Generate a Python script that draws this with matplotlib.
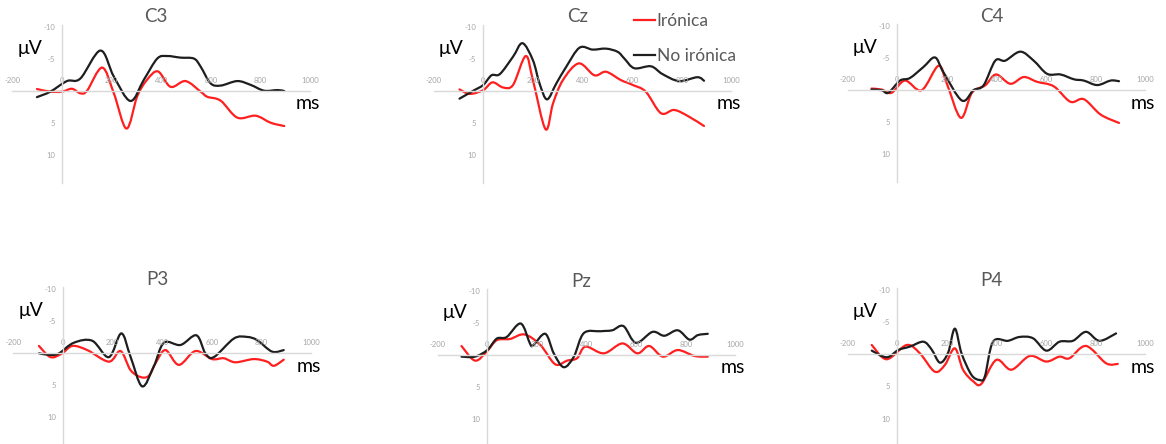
import numpy as np
import matplotlib
matplotlib.use("Agg")
import matplotlib.pyplot as plt
from matplotlib.path import Path
from matplotlib.patches import PathPatch
from matplotlib.lines import Line2D

plt.rcParams['font.family'] = ['Lato', 'DejaVu Sans']
plt.rcParams['axes.unicode_minus'] = False

# --- datos (ms, microvoltios) ---
c3_t_no = [-101, -47, 20, 74, 155, 209, 276, 330, 384, 424, 478, 532, 559, 599, 640, 707, 761, 815, 869, 896]
c3_v_no = [1.0, 0.15, -1.5, -1.9, -6.25, -2.2, 1.6, -1.7, -5.0, -5.4, -5.15, -5.0, -3.75, -1.15, -0.8, -1.5, -0.9, 0.0, -0.1, 0.05]
c3_t_ir = [-101, -47, 0, 40, 74, 101, 162, 209, 260, 303, 343, 387, 438, 498, 559, 586, 640, 707, 781, 842, 896]
c3_v_ir = [-0.26, 0.15, 0.15, -0.3, 0.4, 0.0, -3.6, 0.4, 5.9, 0.9, -1.7, -3.0, -0.6, -1.5, 0.15, 0.95, 1.56, 4.2, 3.9, 5.0, 5.5]

cz_t_no = [-96, -40, 0, 33, 67, 120, 158, 200, 227, 257, 294, 334, 388, 441, 495, 542, 569, 609, 676, 722, 789, 863, 890]
cz_v_no = [1.24, 0.0, -0.9, -2.4, -2.6, -5.3, -7.4, -4.75, -1.1, 1.35, -1.1, -3.7, -6.7, -6.4, -6.55, -6.05, -5.0, -3.5, -3.8, -2.6, -1.5, -2.1, -1.55]
cz_t_ir = [-96, -54, 0, 37, 80, 120, 171, 200, 251, 281, 321, 385, 448, 495, 555, 602, 655, 716, 769, 823, 890]
cz_v_ir = [-0.2, 0.5, -0.1, -1.3, -0.5, -0.9, -5.4, -1.65, 6.0, 2.0, -1.65, -4.25, -2.4, -2.95, -1.65, -0.9, 0.15, 3.5, 3.0, 3.9, 5.5]

c4_t_no = [-104, -63, -36, 11, 51, 105, 152, 186, 260, 307, 348, 395, 435, 496, 550, 604, 658, 712, 752, 806, 860, 894]
c4_v_no = [-0.1, 0.0, 0.4, -1.5, -1.9, -3.6, -5.1, -2.8, 1.6, 0.0, -0.77, -4.6, -4.6, -6.0, -4.6, -2.55, -2.45, -1.7, -1.5, -0.8, -1.5, -1.4]
c4_t_ir = [-104, -63, -23, 31, 98, 166, 200, 256, 301, 355, 398, 456, 510, 564, 631, 698, 752, 820, 894]
c4_v_ir = [-0.25, -0.1, 0.4, -1.5, 0.0, -3.8, -1.0, 4.3, 0.4, -0.77, -2.45, -1.0, -2.05, -1.3, -0.6, 1.8, 1.4, 3.8, 5.1]

p3_t_no = [-97, -50, -16, 44, 118, 185, 235, 272, 319, 366, 407, 474, 538, 574, 608, 689, 742, 783, 843, 890]
p3_v_no = [0.0, 0.26, 0.0, -1.65, -1.95, 0.6, -3.1, 0.5, 5.15, 2.05, -1.65, -1.3, -2.8, 0.0, 0.6, -2.3, -2.55, -2.05, -0.26, -0.5]
p3_t_ir = [-97, -50, -3, 38, 98, 185, 232, 272, 313, 346, 373, 413, 467, 534, 601, 648, 695, 769, 823, 850, 890]
p3_v_ir = [-1.15, 0.6, 0.0, -1.15, -0.5, 1.3, -0.35, 2.6, 3.7, 3.5, 1.55, -0.5, 1.8, -0.35, 0.9, 0.77, 1.4, 0.9, 1.3, 1.95, 1.0]

pz_t_no = [-104, -50, 0, 38, 78, 135, 173, 186, 234, 268, 308, 349, 389, 457, 504, 549, 599, 666, 714, 768, 815, 849, 889]
pz_v_no = [0.26, 0.26, -0.77, -2.55, -2.8, -4.9, -1.7, -1.55, -3.3, -0.26, 1.9, 0.26, -3.4, -3.7, -3.85, -4.5, -1.9, -3.6, -3.0, -3.85, -2.4, -3.1, -3.3]
pz_t_ir = [-104, -50, -3, 38, 92, 150, 214, 274, 322, 362, 396, 470, 545, 605, 653, 708, 768, 835, 889]
pz_v_ir = [-1.4, 0.87, -0.5, -2.3, -2.5, -3.2, -1.55, 1.45, 0.87, 0.5, -1.3, -0.26, -1.8, -0.26, -1.4, 0.26, -0.77, 0.15, 0.26]

p4_t_no = [-103, -43, 4, 51, 105, 138, 172, 205, 232, 259, 299, 332, 353, 386, 446, 493, 547, 601, 654, 708, 761, 815, 882]
p4_v_no = [-0.57, 0.46, -0.67, -1.2, -1.96, -0.77, 1.3, -0.26, -4.0, -0.15, 3.2, 4.0, 3.45, -1.96, -2.1, -2.7, -2.5, -0.57, -1.96, -2.1, -3.5, -2.1, -3.25]
p4_t_ir = [-103, -43, 38, 91, 151, 192, 232, 265, 306, 339, 399, 460, 534, 601, 654, 694, 761, 842, 889]
p4_v_ir = [-1.45, 0.77, -1.45, -0.15, 2.7, 1.65, -0.93, 2.4, 4.2, 4.6, 0.88, 2.4, 0.26, 1.13, 0.36, 0.62, -1.3, 1.4, 1.5]

titulos = ['C3', 'Cz', 'C4', 'P3', 'Pz', 'P4']
series = [
    (c3_t_ir, c3_v_ir, c3_t_no, c3_v_no),
    (cz_t_ir, cz_v_ir, cz_t_no, cz_v_no),
    (c4_t_ir, c4_v_ir, c4_t_no, c4_v_no),
    (p3_t_ir, p3_v_ir, p3_t_no, p3_v_no),
    (pz_t_ir, pz_v_ir, pz_t_no, pz_v_no),
    (p4_t_ir, p4_v_ir, p4_t_no, p4_v_no),
]
x_ticks = [-200, 0, 200, 400, 600, 800, 1000]
y_ticks = [-10, -5, 5, 10]

ROJO = '#ff1f1f'
NEGRO = '#1e1e1e'
GRIS_EJE = '#d9d9d9'
GRIS_TXT = '#595959'

W, H = 1166, 444
# posicion de cada panel: (pixel del eje y, pixel del eje x)
origenes = [(62, 90.7), (483.3, 90.7), (897.3, 90.2),
            (63, 353.3), (487.3, 355), (897.3, 354.3)]
px_ms = 0.248
px_uv = 6.42
y_top, y_bot = -10.3, 14.3


def linea_suave(ax, x, y, color):
    # curva suavizada tipo Excel (Bezier por los puntos)
    pts = np.column_stack([x, y]).astype(float)
    ext = np.vstack([pts[0], pts, pts[-1]])
    verts = [pts[0]]
    codes = [Path.MOVETO]
    for i in range(len(pts) - 1):
        p0, p1, p2, p3 = ext[i], ext[i + 1], ext[i + 2], ext[i + 3]
        verts += [p1 + (p2 - p0) / 6, p2 - (p3 - p1) / 6, p2]
        codes += [Path.CURVE4] * 3
    ax.add_patch(PathPatch(Path(verts, codes), fill=False, edgecolor=color,
                           lw=1.6, capstyle='round', joinstyle='round'))


fig = plt.figure(figsize=(W / 100, H / 100), dpi=100)

for (ox, oy), tit, (t_ir, v_ir, t_no, v_no) in zip(origenes, titulos, series):
    left = ox - 200 * px_ms
    top = oy + y_top * px_uv
    w = 1200 * px_ms
    h = (y_bot - y_top) * px_uv
    ax = fig.add_axes([left / W, 1 - (top + h) / H, w / W, h / H])
    ax.set_xlim(-200, 1000)
    ax.set_ylim(y_bot, y_top)
    ax.patch.set_alpha(0)
    for s in ['top', 'right']:
        ax.spines[s].set_visible(False)
    ax.spines['left'].set_position(('data', 0))
    ax.spines['bottom'].set_position(('data', 0))
    for s in ['left', 'bottom']:
        ax.spines[s].set_color(GRIS_EJE)
        ax.spines[s].set_linewidth(1.0)
    ax.set_xticks(x_ticks)
    ax.set_yticks(y_ticks)
    ax.tick_params(axis='x', length=0, pad=-10, labelsize=5.5, labelcolor='#a6a6a6')
    ax.tick_params(axis='y', length=0, pad=5, labelsize=5.5, labelcolor='#a6a6a6')

    linea_suave(ax, t_ir, v_ir, ROJO)
    linea_suave(ax, t_no, v_no, NEGRO)

    ax.text(380, -11.5, tit, ha='center', va='center', fontsize=13.5, color=GRIS_TXT)
    ax.text(-128, -6.6, 'μV', ha='center', va='center', fontsize=14, color='black')
    ax.text(990, 2.0, 'ms', ha='center', va='center', fontsize=14, color='black')

handles = [Line2D([], [], color=ROJO, lw=1.6), Line2D([], [], color=NEGRO, lw=1.6)]
fig.legend(handles, ['Irónica', 'No irónica'], loc='upper left',
           bbox_to_anchor=(634 / W, 1 - 13 / H), frameon=False, fontsize=12.5,
           handlelength=1.2, handletextpad=0.1, labelspacing=1.12,
           borderpad=0, borderaxespad=0, labelcolor=GRIS_TXT)

fig.savefig('out.png', dpi=100)
